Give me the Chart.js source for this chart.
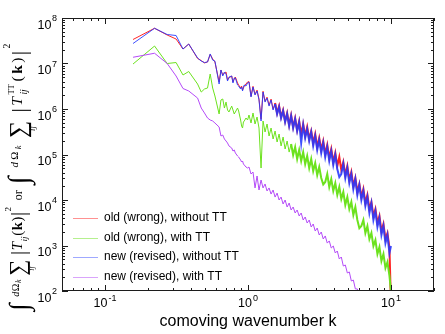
<!DOCTYPE html>
<html>
<head>
<meta charset="utf-8">
<script src="https://cdn.jsdelivr.net/npm/chart.js@4"></script>
<style>
    html, body { margin: 0; padding: 0; background: #fff; }
    canvas { display: block; }
</style>
</head>
<body>
<canvas id="chart" width="445" height="334"></canvas>
<script>
// comoving wavenumber k (shared by all four spectra)
const wavenumber = [
    0.157, 0.222, 0.272, 0.314, 0.351, 0.385, 0.444, 0.471, 0.496, 0.521, 0.544, 0.566, 0.587,
    0.628, 0.647, 0.666, 0.684, 0.702, 0.719, 0.736, 0.769, 0.785, 0.801, 0.816, 0.845, 0.860,
    0.888, 0.902, 0.916, 0.929, 0.942, 0.968, 0.993,
    1.016, 1.050, 1.084, 1.120, 1.157, 1.194, 1.234, 1.274, 1.316, 1.359,
    1.404, 1.450, 1.498, 1.547, 1.598, 1.650, 1.704, 1.760, 1.818, 1.878,
    1.940, 2.003, 2.069, 2.137, 2.207, 2.280, 2.355, 2.432, 2.512, 2.594,
    2.680, 2.768, 2.858, 2.952, 3.049, 3.149, 3.253, 3.360, 3.470, 3.584,
    3.702, 3.823, 3.949, 4.079, 4.213, 4.351, 4.494, 4.642, 4.794, 4.952,
    5.114, 5.282, 5.456, 5.635, 5.820, 6.011, 6.209, 6.413, 6.623, 6.841,
    7.066, 7.298, 7.537, 7.785, 8.041, 8.305, 8.577, 8.859, 9.150, 9.450,
    9.760, 10.0
];

const oldWithoutTT = [
    3.37e7, 5.94e7, 4.23e7, 3.45e7, 2.08e7, 2.68e7, 1.29e7, 1.16e7, 1.03e7, 1.08e7, 1.58e7, 1.26e7, 1.08e7,
    3.92e6, 7.20e6, 5.59e6, 6.18e6, 6.50e6, 4.34e6, 4.80e6, 5.31e6, 3.92e6, 4.56e6, 5.05e6, 3.73e6, 3.37e6,
    2.89e6, 3.20e6, 2.61e6, 2.89e6, 3.20e6, 3.54e6, 3.92e6,
    4.00e6, 1.90e6, 3.15e6, 2.10e6, 2.60e6, 1.65e6, 6.00e5, 2.45e6, 1.48e6, 1.82e6,
    1.21e6, 1.65e6, 9.90e5, 1.35e6, 8.10e5, 1.16e6, 6.60e5, 9.40e5, 5.40e5, 8.10e5,
    4.40e5, 7.30e5, 4.00e5, 6.30e5, 3.40e5, 5.40e5, 2.80e5, 4.65e5, 2.55e5, 4.02e5,
    2.19e5, 3.28e5, 1.79e5, 2.82e5, 1.46e5, 2.30e5, 1.26e5, 1.98e5, 1.03e5, 1.62e5,
    8.38e4, 1.32e5, 6.84e4, 1.08e5, 5.59e4, 8.81e4, 4.56e4, 6.84e4, 3.54e4, 5.59e4,
    2.75e4, 4.12e4, 2.03e4, 3.04e4, 1.50e4, 2.25e4, 1.16e4, 1.74e4, 8.59e3, 1.29e4,
    6.34e3, 9.04e3, 4.45e3, 6.34e3, 3.12e3, 4.45e3, 2.08e3, 2.97e3, 1.39e3, 1.88e3,
    8.81e2, 5.0e1
];

const oldWithTT = [
    9.75e6, 2.42e7, 1.00e7, 1.05e7, 5.59e6, 6.67e6, 3.54e6, 2.36e6, 2.75e6, 2.89e6, 5.88e6, 2.89e6, 1.93e6,
    7.77e5, 1.58e6, 1.66e6, 1.05e6, 1.42e6, 9.51e5, 8.59e5, 1.16e6, 9.51e5, 7.77e5, 8.59e5, 1.05e6, 9.04e5,
    5.73e5, 4.23e5, 3.82e5, 5.18e5, 5.45e5, 6.34e5, 5.73e5,
    7.38e5, 4.92e5, 8.17e5, 4.68e5, 6.67e5, 3.82e5, 5.05e4, 5.45e5, 3.12e5, 4.68e5,
    2.55e5, 3.82e5, 2.19e5, 3.28e5, 1.88e5, 2.82e5, 1.54e5, 2.42e5, 1.32e5, 1.98e5,
    1.13e5, 1.70e5, 9.75e4, 1.46e5, 7.96e4, 1.26e5, 7.20e4, 1.13e5, 6.18e4, 9.27e4,
    5.05e4, 7.96e4, 4.34e4, 6.50e4, 3.54e4, 5.31e4, 3.04e4, 2.20e4, 2.49e4, 3.73e4,
    1.93e4, 2.89e4, 1.58e4, 2.36e4, 1.29e4, 1.93e4, 1.05e4, 1.50e4, 7.77e3, 1.16e4,
    6.34e3, 9.04e3, 4.68e3, 7.02e3, 3.63e3, 2.40e3, 2.68e3, 3.63e3, 1.88e3, 2.68e3,
    1.39e3, 1.88e3, 9.75e2, 1.32e3, 6.50e2, 9.27e2, 4.56e2, 6.50e2, 3.20e2, 4.34e2,
    2.14e2, 1.0e2
];

const newWithoutTT = [
    2.75e7, 5.94e7, 4.34e7, 4.12e7, 2.08e7, 2.68e7, 1.32e7, 1.13e7, 1.05e7, 1.08e7, 1.62e7, 1.19e7, 1.13e7,
    3.54e6, 7.20e6, 5.31e6, 6.50e6, 5.88e6, 4.12e6, 5.05e6, 5.31e6, 3.73e6, 4.80e6, 4.80e6, 3.37e6, 3.20e6,
    2.75e6, 3.04e6, 2.49e6, 3.04e6, 3.37e6, 3.20e6, 3.73e6,
    3.92e6, 1.84e6, 3.04e6, 2.03e6, 2.49e6, 1.58e6, 5.45e5, 2.36e6, 1.42e6, 1.74e6,
    1.16e6, 1.58e6, 9.51e5, 1.29e6, 7.77e5, 1.11e6, 6.34e5, 9.04e5, 5.18e5, 7.77e5,
    4.23e5, 7.02e5, 3.82e5, 6.03e5, 3.28e5, 5.18e5, 1.79e5, 4.45e5, 2.30e5, 3.63e5,
    1.98e5, 3.12e5, 1.54e5, 2.55e5, 1.26e5, 2.08e5, 1.08e5, 1.79e5, 8.81e4, 1.46e5,
    7.20e4, 1.19e5, 5.88e4, 9.75e4, 4.80e4, 3.20e4, 3.73e4, 6.18e4, 3.04e4, 5.05e4,
    2.36e4, 3.73e4, 1.74e4, 2.89e4, 1.29e4, 2.14e4, 1.00e4, 1.58e4, 7.38e3, 1.16e4,
    5.18e3, 8.59e3, 3.63e3, 5.73e3, 2.55e3, 4.02e3, 1.70e3, 2.68e3, 1.13e3, 1.70e3,
    6.84e2, 9.75e2
];

const newWithTT = [
    1.37e7, 1.68e7, 1.00e7, 5.31e6, 2.82e6, 2.49e6, 1.74e6, 1.05e6, 8.17e5, 6.34e5, 5.73e5, 5.45e5, 4.92e5,
    4.02e5, 2.55e5, 2.68e5, 2.19e5, 1.98e5, 1.79e5, 1.54e5, 1.39e5, 1.19e5, 1.26e5, 1.08e5, 9.27e4, 8.81e4,
    7.57e4, 6.84e4, 7.20e4, 6.18e4, 5.88e4, 5.31e4, 5.05e4,
    5.31e4, 3.73e4, 4.12e4, 1.84e4, 3.37e4, 1.66e4, 2.75e4, 1.84e4, 2.25e4, 1.58e4,
    1.84e4, 1.35e4, 1.66e4, 1.16e4, 1.42e4, 1.00e4, 1.16e4, 8.17e3, 1.00e4, 7.02e3,
    8.59e3, 6.03e3, 7.02e3, 5.18e3, 6.03e3, 4.45e3, 5.18e3, 3.63e3, 4.23e3, 3.12e3,
    3.63e3, 2.55e3, 2.97e3, 2.08e3, 2.42e3, 1.70e3, 1.98e3, 1.39e3, 1.62e3, 1.13e3,
    1.26e3, 8.81e2, 9.75e2, 6.84e2, 7.57e2, 5.05e2, 5.59e2, 3.54e2, 3.73e2, 2.49e2,
    2.62e2, 1.66e2, 1.74e2, 1.11e2, 1.11e2, 73.8, 66.7, 51.8, 42.3, 32.8,
    26.8, 20.8, 17.0, 13.2, 10.8, 8.4, 6.5, 5.0, 3.9, 3.2,
    2.5, 1.9
];

const seriesLabels = [
    'old (wrong), without TT',
    'old (wrong), with TT',
    'new (revised), without TT',
    'new (revised), with TT'
];
const seriesColors = ['#ff2424', '#6ce21e', 'rgba(36, 56, 255, 0.88)', '#b44af8'];
// k above which the spectrum turns into a dense noisy band
const bandStart = [1.5, 2.0, 1.5, 100];

const xTickValues = [0.1, 1, 10];
const xTickExponents = ['-1', '0', '1'];
const yTickValues = [1e2, 1e3, 1e4, 1e5, 1e6, 1e7, 1e8];
const yTickExponents = ['2', '3', '4', '5', '6', '7', '8'];

const SANS = '"Liberation Sans", Arial, Helvetica, sans-serif';
const SERIF = '"Liberation Serif", "DejaVu Serif", serif';

function toPoints(values) {
    return values.map((v, i) => ({ x: wavenumber[i], y: v }));
}

function runFont(r, scale) {
    return (r.it ? 'italic ' : '') + (r.bold ? 'bold ' : '') + (r.size * scale) + 'px ' + SERIF;
}

// y axis title, drawn as small runs of text so the sub/superscripts sit right
function drawRuns(ctx, runs, startX, scale, gap) {
    let pos = startX;
    runs.forEach(r => {
        ctx.font = runFont(r, scale);
        ctx.fillText(r.t, pos + (r.dx || 0) * scale, (r.dy || 0) * scale);
        if (r.adv === 0) return;
        pos += (r.adv !== undefined ? r.adv * scale : ctx.measureText(r.t).width) + gap;
    });
    return pos;
}

function titleRuns(withTT) {
    const runs = [
        { t: '\u222B', size: 24, dy: 5, adv: 12 },
        { t: 'd', size: 9, it: true, dy: -3 },
        { t: '\u03A9', size: 9, dy: -3 },
        { t: 'k', size: 7, it: true, dy: -1 },
        { t: ' ', size: 9 },
        { t: '\u2211', size: 20, dy: 3, adv: 15 },
        { t: 'ij', size: 7, it: true, dy: 11, dx: -11, adv: 0 },
        { t: '\u2009', size: 12 },
        { t: '|', size: 18, dy: 3 },
        { t: 'T', size: 13, it: true }
    ];
    if (withTT) {
        runs.push({ t: 'TT', size: 7, dy: -7, adv: 0 });
        runs.push({ t: 'ij', size: 8, it: true, dy: 4, adv: 9 });
    } else {
        runs.push({ t: 'ij', size: 8, it: true, dy: 4 });
    }
    runs.push({ t: '(', size: 13 });
    runs.push({ t: 'k', size: 13, bold: true });
    runs.push({ t: ')', size: 13 });
    runs.push({ t: '|', size: 18, dy: 3 });
    runs.push({ t: '2', size: 8, dy: -10 });
    return runs;
}

const axesPlugin = {
    id: 'axesPlugin',
    afterDatasetsDraw(chart) {
        const { ctx, chartArea: a, scales: { x, y } } = chart;
        ctx.save();

        // frame
        ctx.strokeStyle = '#1c1c1c';
        ctx.lineWidth = 1;
        ctx.strokeRect(a.left + 0.5, a.top + 0.5, a.right - a.left - 1, a.bottom - a.top - 1);

        // inward ticks on all four sides
        ctx.beginPath();
        for (let e = -2; e <= 1; e++) {
            for (let m = 1; m <= 9; m++) {
                const v = m * Math.pow(10, e);
                if (v < x.min || v > x.max) continue;
                const px = Math.round(x.getPixelForValue(v)) + 0.5;
                const len = m === 1 ? 6 : 3;
                ctx.moveTo(px, a.bottom); ctx.lineTo(px, a.bottom - len);
                ctx.moveTo(px, a.top); ctx.lineTo(px, a.top + len);
            }
        }
        for (let e = 2; e <= 8; e++) {
            for (let m = 1; m <= 9; m++) {
                const v = m * Math.pow(10, e);
                if (v < y.min || v > y.max) continue;
                const py = Math.round(y.getPixelForValue(v)) + 0.5;
                const len = m === 1 ? 6 : 3;
                ctx.moveTo(a.left, py); ctx.lineTo(a.left + len, py);
                ctx.moveTo(a.right, py); ctx.lineTo(a.right - len, py);
            }
        }
        ctx.stroke();

        // tick labels
        ctx.fillStyle = '#000';
        ctx.textBaseline = 'alphabetic';
        ctx.textAlign = 'left';
        xTickValues.forEach((v, i) => {
            const px = x.getPixelForValue(v);
            ctx.font = '12.5px ' + SANS;
            const w1 = ctx.measureText('10').width;
            ctx.font = '9px ' + SANS;
            const w2 = ctx.measureText(xTickExponents[i]).width;
            const left = px - (w1 + w2 + 1) / 2;
            ctx.font = '12.5px ' + SANS;
            ctx.fillText('10', left, a.bottom + 16);
            ctx.font = '9px ' + SANS;
            ctx.fillText(xTickExponents[i], left + w1 + 1, a.bottom + 10);
        });
        yTickValues.forEach((v, i) => {
            const py = y.getPixelForValue(v);
            ctx.font = '9px ' + SANS;
            const w2 = ctx.measureText(yTickExponents[i]).width;
            ctx.fillText(yTickExponents[i], 57 - w2, py + 3);
            ctx.font = '12.5px ' + SANS;
            const w1 = ctx.measureText('10').width;
            ctx.fillText('10', 57 - w2 - 0.5 - w1, py + 10.5);
        });

        // x axis title
        ctx.font = '16px ' + SANS;
        ctx.textAlign = 'center';
        ctx.fillText('comoving wavenumber k', (a.left + a.right) / 2, 326);

        // y axis title: lower expression starts near the bottom and reads upwards
        ctx.textAlign = 'left';
        ctx.save();
        ctx.translate(22, 311);
        ctx.rotate(-Math.PI / 2);
        let pos = drawRuns(ctx, titleRuns(false), 0, 1.13, 0.6);
        pos = drawRuns(ctx, [{ t: '\u2002or\u2002', size: 12 }], pos, 1, 0);
        drawRuns(ctx, titleRuns(true), pos, 1.2, 2.4);
        ctx.restore();

        // legend inside the plot
        const rows = [218, 237.5, 257, 277];
        ctx.font = '12px ' + SANS;
        ctx.textBaseline = 'middle';
        seriesLabels.forEach((label, i) => {
            ctx.save();
            ctx.globalAlpha = 0.5;
            ctx.strokeStyle = seriesColors[i];
            ctx.lineWidth = 1;
            ctx.beginPath();
            ctx.moveTo(73, Math.round(rows[i]) + 0.5);
            ctx.lineTo(98, Math.round(rows[i]) + 0.5);
            ctx.stroke();
            ctx.restore();
            ctx.fillStyle = '#000';
            ctx.fillText(label, 104, rows[i]);
        });

        ctx.restore();
    }
};

function makeDataset(i, values, order) {
    return {
        label: seriesLabels[i],
        data: toPoints(values),
        borderColor: seriesColors[i],
        order: order,
        segment: {
            borderWidth: c => (c.p0.parsed.x >= bandStart[i] ? 2 : 1)
        }
    };
}

const canvas = document.getElementById('chart');

const chart = new Chart(canvas, {
    type: 'line',
    data: {
        datasets: [
            makeDataset(0, oldWithoutTT, 4),
            makeDataset(1, oldWithTT, 3),
            makeDataset(2, newWithoutTT, 2),
            makeDataset(3, newWithTT, 1)
        ]
    },
    options: {
        responsive: false,
        animation: false,
        events: [],
        layout: { padding: { top: 18, right: 11, left: 0, bottom: 0 } },
        elements: {
            point: { radius: 0 },
            line: { borderWidth: 1, tension: 0, fill: false }
        },
        plugins: {
            legend: { display: false },
            tooltip: { enabled: false }
        },
        scales: {
            x: {
                type: 'logarithmic',
                min: 0.05,
                max: 20,
                grid: { display: false },
                border: { display: false },
                ticks: { display: false },
                afterFit: scale => { scale.height = 43; }
            },
            y: {
                type: 'logarithmic',
                min: 1e2,
                max: 1e8,
                grid: { display: false },
                border: { display: false },
                ticks: { display: false },
                afterFit: scale => { scale.width = 62; }
            }
        }
    },
    plugins: [axesPlugin]
});
</script>
</body>
</html>
